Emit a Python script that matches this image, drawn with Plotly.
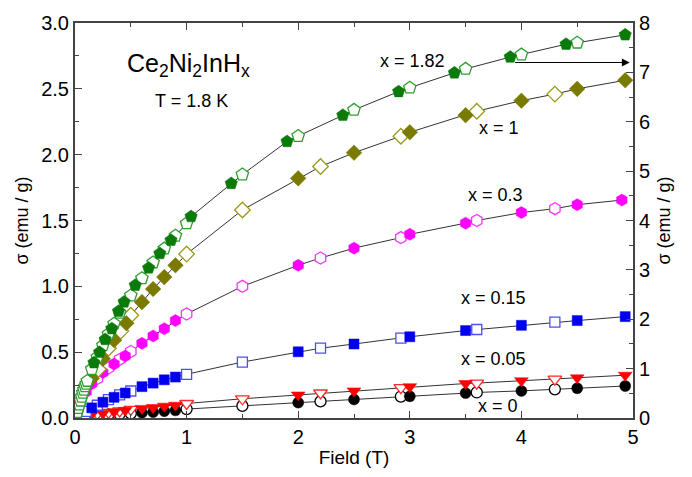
import plotly.graph_objects as go

# ---------------- data (B in T, sigma in emu/g) ----------------
# x = 0 (black circles)
B_x0_fill = [0.6, 0.7, 0.8, 0.9, 2.0, 2.5, 3.0, 3.5, 4.0, 4.5, 4.93]
S_x0_fill = [0.040, 0.045, 0.052, 0.058, 0.117, 0.141, 0.165, 0.189, 0.206, 0.226, 0.243]
B_x0_open = [0.1, 0.2, 0.3, 0.4, 0.5, 1.0, 1.5, 2.2, 2.92, 3.6, 4.3]
S_x0_open = [0.012, 0.020, 0.025, 0.030, 0.035, 0.068, 0.092, 0.126, 0.163, 0.194, 0.218]

# x = 0.05 (red down-triangles)
B_x005_fill = [0.15, 0.25, 0.35, 0.45, 0.6, 0.7, 0.8, 0.9, 2.0, 2.5, 3.0, 3.5, 4.0, 4.5, 4.93]
S_x005_fill = [0.028, 0.037, 0.048, 0.058, 0.073, 0.080, 0.090, 0.097, 0.175, 0.206, 0.238, 0.262, 0.283, 0.305, 0.325]
B_x005_open = [0.2, 0.3, 0.4, 0.5, 1.0, 1.5, 2.2, 2.92, 3.6, 4.3]
S_x005_open = [0.033, 0.043, 0.053, 0.065, 0.110, 0.146, 0.190, 0.230, 0.265, 0.295]

# x = 0.15 (blue squares)
B_x015_fill = [0.15, 0.25, 0.35, 0.45, 0.6, 0.7, 0.8, 0.9, 2.0, 2.5, 3.0, 3.5, 4.0, 4.5, 4.93]
S_x015_fill = [0.077, 0.120, 0.157, 0.190, 0.238, 0.265, 0.290, 0.311, 0.503, 0.562, 0.617, 0.664, 0.704, 0.740, 0.770]
B_x015_open = [0.1, 0.2, 0.3, 0.4, 0.5, 1.0, 1.5, 2.2, 2.92, 3.6, 4.3]
S_x015_open = [0.050, 0.097, 0.140, 0.175, 0.205, 0.332, 0.425, 0.530, 0.607, 0.672, 0.728]

# x = 0.3 (magenta hexagons)
B_x03_fill = [0.1, 0.15, 0.25, 0.35, 0.45, 0.6, 0.7, 0.8, 0.9, 2.0, 2.5, 3.0, 3.5, 4.0, 4.5, 4.9]
S_x03_fill = [0.20, 0.26, 0.345, 0.41, 0.47, 0.567, 0.623, 0.678, 0.74, 1.16, 1.29, 1.395, 1.48, 1.56, 1.62, 1.655]
B_x03_open = [0.2, 0.3, 0.4, 0.5, 1.0, 1.5, 2.2, 2.92, 3.6, 4.3]
S_x03_open = [0.30, 0.38, 0.445, 0.505, 0.79, 1.00, 1.215, 1.37, 1.50, 1.59]

# x = 1 (olive diamonds)
B_x1_fill = [0.15, 0.25, 0.35, 0.46, 0.6, 0.7, 0.8, 0.9, 2.0, 2.5, 3.0, 3.5, 4.0, 4.5, 4.93]
S_x1_fill = [0.30, 0.45, 0.59, 0.72, 0.88, 0.98, 1.07, 1.16, 1.82, 2.015, 2.17, 2.30, 2.41, 2.50, 2.565]
B_x1_open = [0.21, 0.3, 0.41, 0.5, 1.0, 1.5, 2.2, 2.92, 3.6, 4.3]
S_x1_open = [0.37, 0.53, 0.66, 0.78, 1.245, 1.58, 1.91, 2.14, 2.33, 2.46]

# x = 1.82 (green pentagons) -- read on the right axis
B_x182_fill = [0.17, 0.22, 0.27, 0.33, 0.39, 0.44, 0.54, 0.66, 0.76, 0.86, 1.04, 1.4, 1.9, 2.4, 2.9, 3.4, 3.9, 4.4, 4.93]
S_x182_fill = [1.12, 1.33, 1.59, 1.81, 2.16, 2.35, 2.69, 3.04, 3.33, 3.60, 4.08, 4.75, 5.60, 6.13, 6.61, 6.99, 7.31, 7.57, 7.76]
B_x182_open = [0.01, 0.02, 0.03, 0.04, 0.05, 0.06, 0.07, 0.08, 0.09, 0.10, 0.11,
               0.15, 0.2, 0.25, 0.3, 0.35, 0.4, 0.5, 0.6, 0.7, 0.8, 0.9, 1.0,
               1.5, 2.0, 2.5, 3.0, 3.5, 4.0, 4.5]
S_x182_open = [0.05, 0.12, 0.20, 0.27, 0.35, 0.43, 0.51, 0.57, 0.64, 0.69, 0.75,
               0.99, 1.23, 1.47, 1.70, 1.91, 2.13, 2.48, 2.83, 3.15, 3.43, 3.69, 3.94,
               4.93, 5.71, 6.24, 6.69, 7.07, 7.36, 7.60]

x_ticks = [0, 1, 2, 3, 4, 5]
y_ticks = [0.0, 0.5, 1.0, 1.5, 2.0, 2.5, 3.0]
y2_ticks = [0, 1, 2, 3, 4, 5, 6, 7, 8]

labels = ["x = 1.82", "x = 1", "x = 0.3", "x = 0.15", "x = 0.05", "x = 0"]
label_B = [3.02, 3.80, 3.77, 3.75, 3.75, 3.79]
label_S = [2.71, 2.20, 1.69, 0.91, 0.45, 0.094]

FONT = "Liberation Sans, Arial, sans-serif"
AX = "#444444"

series = [
    # (Bf, Sf, Bo, So, symbol, fill color, open color, size, yaxis)
    (B_x0_fill, S_x0_fill, B_x0_open, S_x0_open, "circle", "#000000", "#000000", 11, "y"),
    (B_x005_fill, S_x005_fill, B_x005_open, S_x005_open, "triangle-down", "#ff0000", "#ff2a2a", 12, "y"),
    (B_x015_fill, S_x015_fill, B_x015_open, S_x015_open, "square", "#0000ee", "#4d4dff", 10, "y"),
    (B_x03_fill, S_x03_fill, B_x03_open, S_x03_open, "hexagon", "#ff00ff", "#ff33ff", 12, "y"),
    (B_x1_fill, S_x1_fill, B_x1_open, S_x1_open, "diamond", "#7a7a00", "#9a9a1a", 12, "y"),
    (B_x182_fill, S_x182_fill, B_x182_open, S_x182_open, "pentagon", "#0a7a0a", "#2e9e2e", 13, "y2"),
]

fig = go.Figure()

# connecting line through all points of each series (sorted by field)
for Bf, Sf, Bo, So, sym, cf, co, sz, ya in series:
    pts = sorted(zip(list(Bf) + list(Bo), list(Sf) + list(So)))
    fig.add_trace(go.Scatter(x=[p[0] for p in pts], y=[p[1] for p in pts], mode="lines",
                             yaxis=ya, line=dict(color="#333333", width=1.0),
                             showlegend=False, hoverinfo="skip"))

# markers
for Bf, Sf, Bo, So, sym, cf, co, sz, ya in series:
    fig.add_trace(go.Scatter(x=Bo, y=So, mode="markers", yaxis=ya,
                             marker=dict(symbol=sym, size=sz, color="white",
                                         line=dict(color=co, width=1.3)),
                             showlegend=False))
    fig.add_trace(go.Scatter(x=Bf, y=Sf, mode="markers", yaxis=ya,
                             marker=dict(symbol=sym, size=sz, color=cf,
                                         line=dict(color=cf, width=0.5)),
                             showlegend=False))

annotations = []
for t, bx, sy in zip(labels, label_B, label_S):
    annotations.append(dict(x=bx, y=sy, xref="x", yref="y", text=t, showarrow=False,
                            font=dict(family=FONT, size=18, color="black")))
annotations.append(dict(x=1.02, y=2.68, xref="x", yref="y",
                        text="Ce<sub>2</sub>Ni<sub>2</sub>InH<sub>x</sub>", showarrow=False,
                        font=dict(family=FONT, size=25, color="black")))
annotations.append(dict(x=1.045, y=2.41, xref="x", yref="y", text="T = 1.8 K", showarrow=False,
                        font=dict(family=FONT, size=18, color="black")))
# arrow pointing to the right axis
annotations.append(dict(x=4.97, y=2.70, ax=3.93, ay=2.70, xref="x", yref="y",
                        axref="x", ayref="y", text="", showarrow=True,
                        arrowhead=2, arrowsize=1.3, arrowwidth=1.2, arrowcolor="black"))

fig.update_layout(
    width=692, height=477,
    margin=dict(l=75, r=59, t=18, b=47),
    paper_bgcolor="white", plot_bgcolor="white",
    font=dict(family=FONT, color="black"),
    showlegend=False,
    annotations=annotations,
    xaxis=dict(range=[0, 5], tickmode="array", tickvals=x_ticks,
               ticktext=[str(v) for v in x_ticks],
               ticks="inside", ticklen=7, tickwidth=1.2, tickcolor=AX,
               minor=dict(dtick=0.5, ticks="inside", ticklen=4, tickcolor=AX),
               showline=True, linecolor=AX, linewidth=2, mirror="ticks",
               showgrid=False, zeroline=False,
               tickfont=dict(size=20, family=FONT),
               title=dict(text="Field (T)", font=dict(size=19, family=FONT), standoff=4)),
    yaxis=dict(range=[0, 3], tickmode="array", tickvals=y_ticks,
               ticktext=["%.1f" % v for v in y_ticks],
               ticks="inside", ticklen=7, tickwidth=1.2, tickcolor=AX,
               minor=dict(dtick=0.25, ticks="inside", ticklen=4, tickcolor=AX),
               showline=True, linecolor=AX, linewidth=2,
               showgrid=False, zeroline=False,
               tickfont=dict(size=20, family=FONT),
               title=dict(text="σ (emu / g)", font=dict(size=18, family=FONT), standoff=8)),
    yaxis2=dict(range=[0, 8], overlaying="y", side="right", anchor="x",
                tickmode="array", tickvals=y2_ticks, ticktext=[str(v) for v in y2_ticks],
                ticks="inside", ticklen=7, tickwidth=1.2, tickcolor=AX,
                minor=dict(dtick=0.5, ticks="inside", ticklen=4, tickcolor=AX),
                showline=True, linecolor=AX, linewidth=2,
                showgrid=False, zeroline=False,
                tickfont=dict(size=20, family=FONT),
                title=dict(text="σ (emu / g)", font=dict(size=18, family=FONT), standoff=8)),
)

fig.write_html("out.html")
